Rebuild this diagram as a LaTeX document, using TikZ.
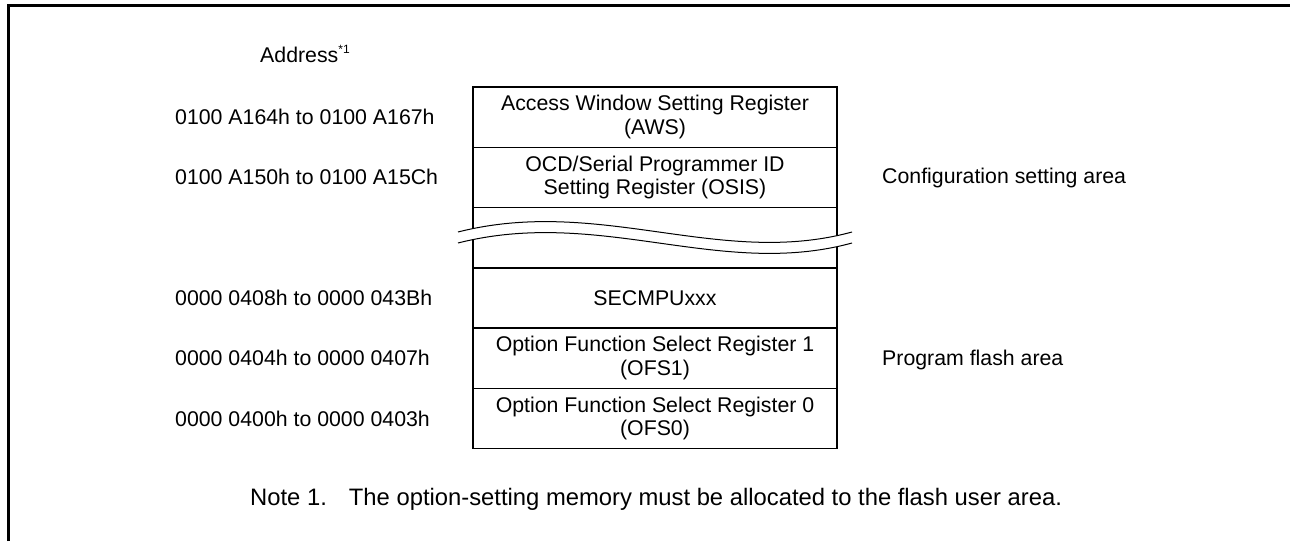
\documentclass[tikz,border=0pt]{standalone}
\usepackage{fontspec}
\setmainfont{Liberation Sans}
\begin{document}
\begin{tikzpicture}[x=1pt,y=-1pt,
  every node/.style={font=\fontsize{21.3}{23.5}\selectfont, inner sep=0pt},
  reg/.style={draw, line width=1.3pt, minimum width=364pt, minimum height=60.3pt, align=center},
  lbl/.style={anchor=west},
  rlbl/.style={anchor=base west},
  notetext/.style={anchor=base west, font=\fontsize{23.8}{26}\selectfont},
  wave/.style={line width=1pt},
  frame/.style={line width=3.3pt}]
\useasboundingbox (0,0) rectangle (1290,541);
\draw[frame] (8.5,541) -- (8.5,5.5) -- (1290,5.5);

\node[rlbl] (addr) at (260,62) {Address\raisebox{8.7pt}{\fontsize{12}{12}\selectfont *1}};

\node[reg] (aws)  at (655,117)   {Access Window Setting Register\\(AWS)};
\node[reg] (osis) at (655,177.3) {OCD/Serial Programmer ID\\Setting Register (OSIS)};
\node[reg] (gap)  at (655,237.6) {};
\node[reg] (sec)  at (655,298)   {SECMPUxxx};
\node[reg] (ofs1) at (655,358.2) {Option Function Select Register 1\\(OFS1)};
\node[reg] (ofs0) at (655,418.5) {Option Function Select Register 0\\(OFS0)};

\fill[white] (458,232) .. controls (600,196) and (720,268) .. (852,232) -- (852,243) .. controls (720,279) and (600,207) .. (458,243) -- cycle;
\draw[wave] (458,232) .. controls (600,196) and (720,268) .. (852,232);
\draw[wave] (458,243) .. controls (600,207) and (720,279) .. (852,243);

\node[lbl] (l1) at (175,117)   {0100 A164h to 0100 A167h};
\node[lbl] (l2) at (175,177.3) {0100 A150h to 0100 A15Ch};
\node[lbl] (l3) at (175,298)   {0000 0408h to 0000 043Bh};
\node[lbl] (l4) at (175,358.2) {0000 0404h to 0000 0407h};
\node[lbl] (l5) at (175,418.5) {0000 0400h to 0000 0403h};

\node[rlbl] (cfg) at (882,183.5) {Configuration setting area};
\node[rlbl] (pfa) at (882,365.5) {Program flash area};

\node[notetext] (note) at (250,505) {Note 1.\hspace{22pt}The option-setting memory must be allocated to the flash user area.};
\end{tikzpicture}
\end{document}
